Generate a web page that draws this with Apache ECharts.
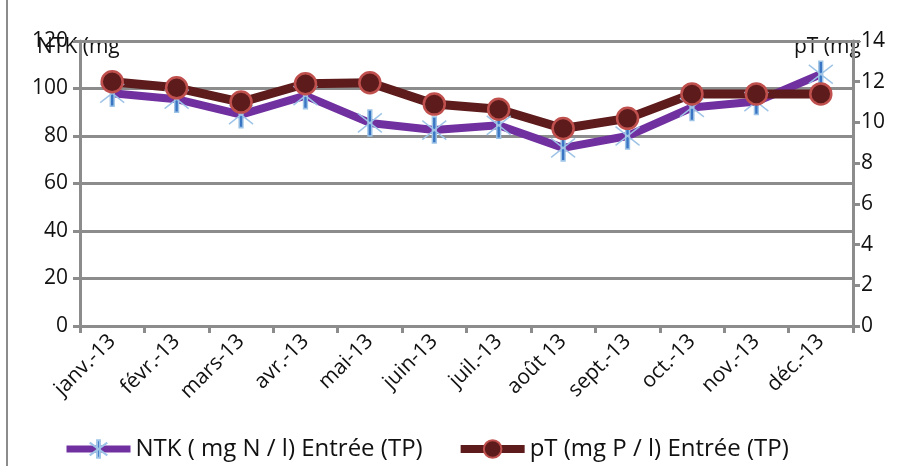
<!DOCTYPE html>
<html><head><meta charset="utf-8">
<script src="https://cdn.jsdelivr.net/npm/echarts@6/dist/echarts.min.js"></script>
<style>html,body{margin:0;padding:0;background:#fff}#c{width:900px;height:466px}</style>
</head><body><div id="c"></div>
<script>
const categories = ['janv.-13','févr.-13','mars-13','avr.-13','mai-13','juin-13','juil.-13','août 13','sept.-13','oct.-13','nov.-13','déc.-13'];
const ntkValues = [98, 95.5, 89, 97, 85.5, 82.5, 84.5, 75, 80, 92, 94.5, 106];
const ptValues = [12, 11.7, 11, 11.9, 11.95, 10.9, 10.65, 9.7, 10.2, 11.4, 11.4, 11.4];
const leftTicks = {min: 0, max: 120, interval: 20};
const rightTicks = {min: 0, max: 14, interval: 2};
const ntkName = 'NTK ( mg N / l) Entrée (TP)';
const ptName = 'pT (mg P / l) Entrée (TP)';
const leftAxisTitle = 'NTK (mg';
const rightAxisTitle = 'pT (mg';

const FONT = 'Open Sans';
const chart = echarts.init(document.getElementById('c'));
const axisGray = '#8c8c8c';
chart.setOption({
  animation: false,
  backgroundColor: '#fff',
  textStyle: {fontFamily: FONT},
  grid: {left: 80, right: 47, top: 41, bottom: 140, containLabel: false},
  legend: {
    bottom: 0, left: 58, itemGap: 34, itemWidth: 64, itemHeight: 22,
    textStyle: {fontSize: 24, color: '#111', fontFamily: FONT},
    data: [
      {name: ntkName, lineStyle: {width: 7}},
      {name: ptName, lineStyle: {width: 8}}
    ]
  },
  xAxis: {
    type: 'category', data: categories, boundaryGap: true,
    axisLine: {lineStyle: {color: axisGray, width: 3}},
    axisTick: {show: true, alignWithLabel: false, length: 7, lineStyle: {color: axisGray, width: 3}},
    axisLabel: {rotate: 45, fontSize: 21, color: '#111', margin: 12, interval: 0, fontFamily: FONT}
  },
  yAxis: [
    {type: 'value', min: leftTicks.min, max: leftTicks.max, interval: leftTicks.interval, position: 'left',
     axisLine: {show: true, lineStyle: {color: axisGray, width: 3}},
     axisTick: {show: true, length: 7, lineStyle: {color: axisGray, width: 3}},
     axisLabel: {fontSize: 21, color: '#111', margin: 12, fontFamily: FONT},
     splitLine: {show: true, lineStyle: {color: axisGray, width: 3}}},
    {type: 'value', min: rightTicks.min, max: rightTicks.max, interval: rightTicks.interval, position: 'right',
     axisLine: {show: true, lineStyle: {color: axisGray, width: 3}},
     axisTick: {show: true, length: 7, lineStyle: {color: axisGray, width: 3}},
     axisLabel: {fontSize: 21, color: '#111', margin: 8, fontFamily: FONT},
     splitLine: {show: false}}
  ],
  graphic: [
    {type: 'line', shape: {x1: 7, y1: 0, x2: 7, y2: 466}, style: {stroke: axisGray, lineWidth: 2}},
    {type: 'text', left: 37, top: 37, style: {text: leftAxisTitle, font: '21px "Open Sans"', fill: '#111'}},
    {type: 'text', left: 794, top: 37, style: {text: rightAxisTitle, font: '21px "Open Sans"', fill: '#111'}}
  ],
  series: [
    {name: ntkName, type: 'line', yAxisIndex: 0, data: ntkValues,
     lineStyle: {color: '#7030A0', width: 8},
     symbol: 'path://M-10,-8L10,8M-10,8L10,-8M-1.6,-11L1.6,-11L1.6,11L-1.6,11Z', symbolSize: [24, 26],
     itemStyle: {color: '#3A75C4', borderColor: '#9DC3E6', borderWidth: 1.5}},
    {name: ptName, type: 'line', yAxisIndex: 1, data: ptValues,
     lineStyle: {color: '#5E1B1B', width: 9},
     symbol: 'circle', symbolSize: 21,
     itemStyle: {color: '#5E1B1B', borderColor: '#C0504D', borderWidth: 2.5}}
  ]
});
</script></body></html>
